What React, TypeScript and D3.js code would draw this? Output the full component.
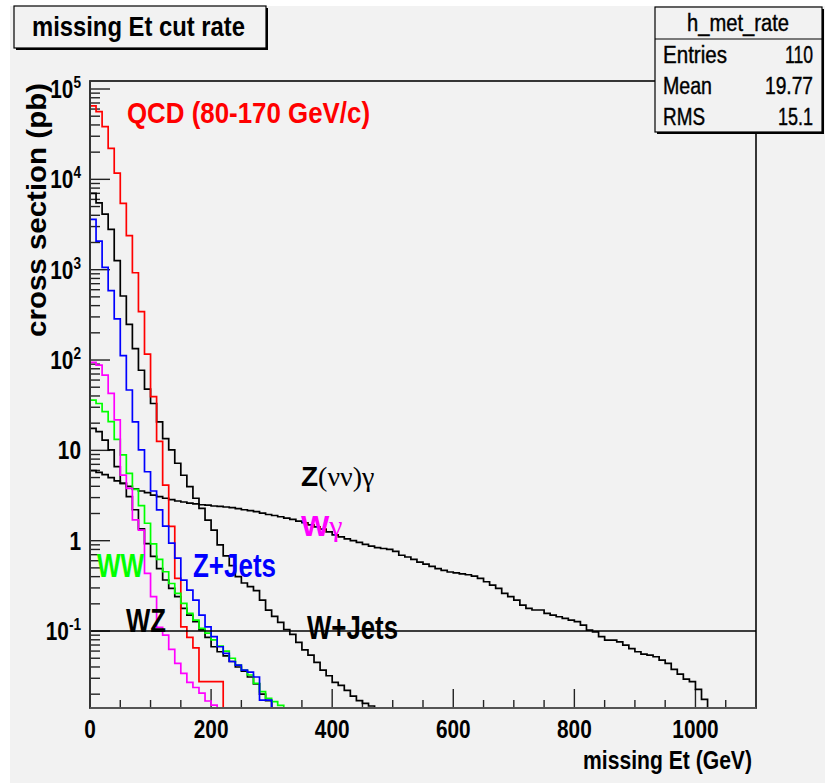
import React from "react";
import * as d3 from "d3";

// ---- data (cross section in pb per 10 GeV bin of missing Et, 0..1100 GeV) ----
const binWidth = 10;
const xMax = 1100;

const qcd = [64900, 56100, 38300, 22000, 11700, 5430, 2380, 925, 343, 116, 39.3, 12.6, 4.13, 1.44, 0.383, 0.111, 0.085, 0.065, 0.0275, 0.0275, 0.0275, 0.0275];
const wJets = [7000, 5500, 4130, 2800, 1260, 511, 248, 134, 77, 47.5, 33, 20.7, 13.5, 10.1, 7.2, 5.3, 3.96, 2.95, 2.28, 1.69, 1.31, 0.9, 0.68, 0.53, 0.4, 0.34, 0.31, 0.28, 0.22, 0.17, 0.145, 0.125, 0.104, 0.092, 0.075, 0.062, 0.054, 0.045, 0.037, 0.032, 0.027, 0.025, 0.022, 0.019, 0.017, 0.0158, 0.0148];
const zJets = [3610, 2075, 1062, 585, 285, 112, 46.6, 20.7, 10.1, 5.8, 3.55, 2.19, 1.45, 0.94, 0.64, 0.366, 0.284, 0.22, 0.15, 0.111, 0.0865, 0.067, 0.0565, 0.046, 0.042, 0.037, 0.035, 0.031, 0.0172, 0.0172, 0, 0, 0, 0, 0, 0, 0, 0, 0, 0, 0, 0, 0, 0, 0, 0, 0];
const wGamma = [94, 88, 68, 42.8, 21.7, 5.33, 3.8, 1.7, 1.31, 0.435, 0.24, 0.11, 0.09, 0.0627, 0.0438, 0.034, 0.027, 0.0237, 0.0205, 0.0168, 0.0151, 0, 0, 0, 0, 0, 0, 0, 0, 0];
const ww = [36, 33, 26.8, 20.8, 13.2, 8.9, 5.57, 3.7, 2.45, 1.56, 0.92, 0.62, 0.453, 0.336, 0.261, 0.202, 0.157, 0.132, 0.107, 0.095, 0.08, 0.068, 0.06, 0.05, 0.042, 0.037, 0.0326, 0.0263, 0.0213, 0.018, 0.0165, 0.015];
const wz = [17.5, 16.1, 13, 10.1, 6.6, 4.3, 3.07, 2.2, 1.35, 0.93, 0.67, 0.49, 0.367, 0.296, 0.24, 0.178, 0.15, 0.127, 0.103, 0.085, 0.067, 0.059, 0.053, 0.046, 0.04, 0.036, 0.031, 0.026, 0.02, 0.017];
const zGamma = [5.96, 5.7, 5.4, 5.0, 4.6, 4.3, 4.0, 3.75, 3.55, 3.4, 3.2, 3.07, 2.95, 2.85, 2.75, 2.68, 2.6, 2.55, 2.5, 2.47, 2.42, 2.4, 2.36, 2.32, 2.27,
  2.2, 2.15, 2.1, 2.02, 1.95, 1.9, 1.84, 1.78, 1.72, 1.65, 1.58, 1.5, 1.42, 1.34, 1.25,
  1.16, 1.1, 1.05, 1.0, 0.96, 0.91, 0.87, 0.84, 0.82, 0.8, 0.76, 0.69, 0.66, 0.62, 0.58, 0.55, 0.52, 0.49, 0.47, 0.45, 0.44, 0.43, 0.42, 0.405,
  0.383, 0.351, 0.323, 0.296, 0.261, 0.24, 0.22, 0.194, 0.178, 0.171, 0.171, 0.157, 0.15, 0.144, 0.138, 0.132, 0.127, 0.116, 0.1025, 0.098,
  0.0865, 0.0795, 0.0795, 0.076, 0.07, 0.064, 0.059, 0.0556, 0.0542, 0.0519, 0.0477, 0.0438, 0.0377, 0.0334, 0.0294, 0.0275, 0.0226, 0.0175];

const cutLevel = 0.1;

const series = [
  { name: "Z(nunu)gamma", values: zGamma, color: "#000000" },
  { name: "W+Jets", values: wJets, color: "#000000" },
  { name: "WZ", values: wz, color: "#000000" },
  { name: "QCD", values: qcd, color: "#ff0000" },
  { name: "WW", values: ww, color: "#00ff00" },
  { name: "Z+Jets", values: zJets, color: "#0000ff" },
  { name: "Wgamma", values: wGamma, color: "#ff00ff" },
];

const xTickValues = d3.range(0, xMax + 1, 50);
const xLabelValues = [0, 200, 400, 600, 800, 1000];
const yDecades = [-1, 0, 1, 2, 3, 4, 5];

const stats = [
  { label: "Entries", value: "110", lw: 64, vw: 28 },
  { label: "Mean", value: "19.77", lw: 49, vw: 48 },
  { label: "RMS", value: "15.1", lw: 42, vw: 35 },
];

const SANS = "'Liberation Sans', Arial, Helvetica, sans-serif";
const SERIF = "'Liberation Serif', 'DejaVu Serif', serif";

export default function App() {
  const W = 828, H = 783;
  const frame = { left: 90, right: 756, top: 81, bottom: 708 };
  const x = d3.scaleLinear().domain([0, xMax]).range([frame.left, frame.right]);
  const y = d3.scaleLog().domain([Math.pow(10, -1.852), Math.pow(10, 5.0886)]).range([frame.bottom, frame.top]);
  const [yLo, yHi] = y.domain();

  const histPath = (vals: number[]) => {
    const b = frame.bottom;
    const yy = (v: number) => (v > 0 ? y(v) : b);
    let d = `M${x(0)},${b}`;
    vals.forEach((v, i) => {
      d += `V${yy(v)}H${x((i + 1) * binWidth)}`;
    });
    d += `V${b}`;
    return d;
  };

  const minorY: number[] = [];
  for (let k = -2; k <= 5; k++) {
    for (let m = 2; m <= 9; m++) {
      const v = m * Math.pow(10, k);
      if (v > yLo && v < yHi) minorY.push(v);
    }
  }

  const yLabel = (k: number) => {
    if (k === 0) return <tspan>1</tspan>;
    if (k === 1) return <tspan>10</tspan>;
    return (
      <>
        <tspan>10</tspan>
        <tspan fontSize={17} dy={-10}>{String(k)}</tspan>
      </>
    );
  };

  return (
    <svg width={W} height={H} style={{ position: "absolute", left: 0, top: 0, background: "#ffffff" }}>
      <rect x={10} y={6} width={815} height={H - 6} fill="#f2f2f2" />

      {/* frame */}
      <rect x={frame.left} y={frame.top} width={frame.right - frame.left} height={frame.bottom - frame.top} fill="#f2f2f2" stroke="#222" strokeWidth={1.8} />

      {/* y ticks */}
      {minorY.map((v, i) => (
        <line key={"my" + i} x1={frame.left} x2={frame.left + 10} y1={y(v)} y2={y(v)} stroke="#222" strokeWidth={1.4} />
      ))}
      {yDecades.map((k) => (
        <line key={"My" + k} x1={frame.left} x2={frame.left + 20} y1={y(Math.pow(10, k))} y2={y(Math.pow(10, k))} stroke="#222" strokeWidth={1.4} />
      ))}
      {yDecades.map((k) => (
        <g key={"ly" + k} transform={`translate(81,${y(Math.pow(10, k)) + 9}) scale(0.8,1)`}>
          <text textAnchor="end" fontFamily={SANS} fontWeight="bold" fontSize={26} fill="#000">
            {yLabel(k)}
          </text>
        </g>
      ))}

      {/* x ticks */}
      {xTickValues.filter((v) => v > 0 && v < xMax).map((v) => (
        <line key={"xt" + v} x1={x(v)} x2={x(v)} y1={frame.bottom} y2={frame.bottom - (v % 200 === 0 ? 19 : 8)} stroke="#222" strokeWidth={1.4} />
      ))}
      {xLabelValues.map((v) => (
        <g key={"xl" + v} transform={`translate(${x(v)},738) scale(0.8,1)`}>
          <text textAnchor="middle" fontFamily={SANS} fontWeight="bold" fontSize={26} fill="#000">{v}</text>
        </g>
      ))}

      {/* histograms */}
      {series.map((s) => (
        <path key={s.name} d={histPath(s.values)} fill="none" stroke={s.color} strokeWidth={1.7} />
      ))}

      {/* cut line */}
      <line x1={frame.left} x2={frame.right} y1={y(cutLevel)} y2={y(cutLevel)} stroke="#000" strokeWidth={1.6} />

      {/* redraw left/bottom axis */}
      <line x1={frame.left} x2={frame.left} y1={frame.top} y2={frame.bottom} stroke="#333" strokeWidth={2} />
      <line x1={frame.left} x2={frame.right} y1={frame.bottom} y2={frame.bottom} stroke="#555" strokeWidth={2.2} />

      {/* axis titles */}
      <text x={583} y={769} fontFamily={SANS} fontWeight="bold" fontSize={26} textLength={169} lengthAdjust="spacingAndGlyphs" fill="#000">missing Et (GeV)</text>
      <text transform="translate(46,210) rotate(-90)" textAnchor="middle" fontFamily={SANS} fontWeight="bold" fontSize={28} textLength={254} lengthAdjust="spacingAndGlyphs" fill="#000">cross section (pb)</text>

      {/* curve labels */}
      <text x={127} y={123} fontFamily={SANS} fontWeight="bold" fontSize={30} textLength={243} lengthAdjust="spacingAndGlyphs" fill="#ff0000">QCD (80-170 GeV/c)</text>
      <text x={301} y={486} fontSize={28} fill="#000">
        <tspan fontFamily={SANS} fontWeight="bold">Z</tspan>
        <tspan fontFamily={SERIF}>(νν)γ</tspan>
      </text>
      <text x={301} y={536} fontSize={30} fill="#ff00ff">
        <tspan fontFamily={SANS} fontWeight="bold">W</tspan>
        <tspan fontFamily={SERIF}>γ</tspan>
      </text>
      <text x={307} y={639} fontFamily={SANS} fontWeight="bold" fontSize={34} textLength={91} lengthAdjust="spacingAndGlyphs" fill="#000">W+Jets</text>
      <text x={193} y={577} fontFamily={SANS} fontWeight="bold" fontSize={34} textLength={83} lengthAdjust="spacingAndGlyphs" fill="#0000ff">Z+Jets</text>
      <text x={97} y={577} fontFamily={SANS} fontWeight="bold" fontSize={34} textLength={47} lengthAdjust="spacingAndGlyphs" fill="#00ff00">WW</text>
      <text x={126} y={632} fontFamily={SANS} fontWeight="bold" fontSize={34} textLength={40} lengthAdjust="spacingAndGlyphs" fill="#000">WZ</text>

      {/* title box */}
      <rect x={16} y={8} width={252} height={42} fill="#000" />
      <rect x={14} y={6} width={252} height={42} fill="#f2f2f2" stroke="#000" strokeWidth={1.2} />
      <text x={32} y={36} fontFamily={SANS} fontWeight="bold" fontSize={27} textLength={213} lengthAdjust="spacingAndGlyphs" fill="#000">missing Et cut rate</text>

      {/* stats box */}
      <rect x={657} y={9} width={167} height={125} fill="#000" />
      <rect x={655} y={7} width={167} height={125} fill="#f2f2f2" stroke="#000" strokeWidth={1.2} />
      <line x1={655} x2={822} y1={39} y2={39} stroke="#000" strokeWidth={1.2} />
      <text x={738} y={31} textAnchor="middle" fontFamily={SANS} fontSize={23} textLength={102} lengthAdjust="spacingAndGlyphs" fill="#000" stroke="#000" strokeWidth={0.4}>h_met_rate</text>
      {stats.map((s, i) => (
        <g key={s.label}>
          <text x={663} y={63 + i * 31} fontFamily={SANS} fontSize={23} textLength={s.lw} lengthAdjust="spacingAndGlyphs" fill="#000" stroke="#000" strokeWidth={0.4}>{s.label}</text>
          <text x={813 - s.vw} y={63 + i * 31} fontFamily={SANS} fontSize={23} textLength={s.vw} lengthAdjust="spacingAndGlyphs" fill="#000" stroke="#000" strokeWidth={0.4}>{s.value}</text>
        </g>
      ))}
    </svg>
  );
}
